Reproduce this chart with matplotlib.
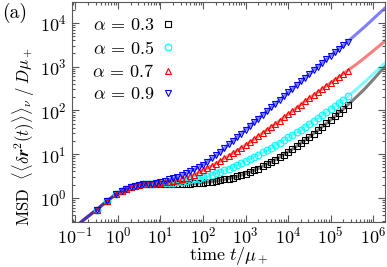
import numpy as np
import matplotlib
matplotlib.use("Agg")
import matplotlib.pyplot as plt
from matplotlib.ticker import LogLocator, NullFormatter

plt.rcParams["font.family"] = "serif"
plt.rcParams["font.serif"] = ["cmr10", "DejaVu Serif"]
plt.rcParams["mathtext.fontset"] = "cm"
plt.rcParams["axes.formatter.use_mathtext"] = True
plt.rcParams["font.size"] = 13


# log10(time) at which the simulation points are shown
log_t = [-0.5, -0.25, -0.05, 0.1, 0.2, 0.3, 0.4, 0.5, 0.6, 0.7, 0.8,
         0.9, 1.0, 1.1, 1.2, 1.3, 1.4, 1.5, 1.6, 1.7, 1.8, 1.9,
         2.0, 2.1, 2.2, 2.3, 2.4, 2.5, 2.6, 2.7, 2.8, 2.9,
         3.0, 3.1, 3.2, 3.3, 3.4, 3.5, 3.6, 3.7, 3.8, 3.9,
         4.0, 4.1, 4.2, 4.3, 4.4, 4.5, 4.6, 4.7, 4.8, 4.9,
         5.0, 5.1, 5.2, 5.3, 5.4]

# common short-time part (same for every alpha), log10 MSD
early = [-0.27, -0.07, 0.08, 0.16, 0.21, 0.25, 0.28, 0.30, 0.31, 0.32, 0.32]

# log10 MSD from log t = 0.9 onwards
msd_03 = [0.31, 0.31, 0.31, 0.31, 0.31, 0.31, 0.31, 0.32, 0.32, 0.33, 0.34,
          0.35, 0.36, 0.37, 0.38, 0.40, 0.42, 0.44, 0.46, 0.49, 0.52,
          0.55, 0.59, 0.63, 0.67, 0.72, 0.77, 0.82, 0.87, 0.93, 0.99,
          1.05, 1.11, 1.18, 1.25, 1.32, 1.39, 1.47, 1.54, 1.62, 1.70,
          1.78, 1.86, 1.95, 2.03, 2.12]
msd_05 = [0.33, 0.33, 0.34, 0.34, 0.35, 0.36, 0.37, 0.38, 0.40, 0.42, 0.44,
          0.47, 0.50, 0.53, 0.56, 0.60, 0.63, 0.67, 0.71, 0.75, 0.79,
          0.84, 0.89, 0.94, 0.99, 1.04, 1.09, 1.15, 1.20, 1.26, 1.32,
          1.38, 1.44, 1.50, 1.56, 1.63, 1.69, 1.76, 1.82, 1.89, 1.96,
          2.03, 2.10, 2.17, 2.24, 2.32]
msd_07 = [0.34, 0.35, 0.36, 0.37, 0.39, 0.41, 0.43, 0.46, 0.49, 0.53, 0.58,
          0.63, 0.68, 0.73, 0.78, 0.84, 0.90, 0.96, 1.02, 1.08, 1.14,
          1.21, 1.27, 1.34, 1.41, 1.48, 1.55, 1.62, 1.69, 1.76, 1.84,
          1.91, 1.98, 2.06, 2.13, 2.21, 2.28, 2.35, 2.42, 2.49, 2.56,
          2.63, 2.70, 2.77, 2.84, 2.91]
msd_09 = [0.35, 0.37, 0.39, 0.42, 0.45, 0.48, 0.52, 0.56, 0.61, 0.65, 0.70,
          0.76, 0.83, 0.90, 0.97, 1.05, 1.13, 1.22, 1.30, 1.39, 1.47,
          1.56, 1.64, 1.73, 1.81, 1.90, 1.98, 2.07, 2.15, 2.24, 2.32,
          2.41, 2.49, 2.58, 2.66, 2.75, 2.83, 2.92, 3.00, 3.09, 3.17,
          3.25, 3.33, 3.41, 3.49, 3.57]

# theory curves: extra points before and after the simulated range
head_t = [-1.1, -0.8]
head_msd = [-0.75, -0.50]
tail_t = [5.6, 5.8, 6.0, 6.2, 6.35]
tail_03 = [2.30, 2.49, 2.70, 2.92, 3.07]
tail_05 = [2.48, 2.65, 2.83, 3.01, 3.15]
tail_07 = [3.05, 3.20, 3.36, 3.52, 3.64]
tail_09 = [3.74, 3.91, 4.09, 4.27, 4.40]

alphas = ["0.3", "0.5", "0.7", "0.9"]
series = [msd_03, msd_05, msd_07, msd_09]
tails = [tail_03, tail_05, tail_07, tail_09]
colors = ["black", "cyan", "red", "blue"]
markers = ["s", "o", "^", "v"]


fig = plt.figure(figsize=(3.87, 2.67), dpi=100)
ax = fig.add_axes([0.186, 0.169, 0.809, 0.824])

t = 10.0**np.array(log_t)
for a, vals, tail, c, m in zip(alphas, series, tails, colors, markers):
    y = 10.0**np.array(early + vals)
    tl = 10.0**np.array(head_t + log_t + tail_t)
    yl = 10.0**np.array(head_msd + early + vals + tail)
    ax.plot(tl, yl, "-", color=c, lw=2.2, alpha=0.5, zorder=1)
    ax.plot(t, y, ls="none", marker=m, ms=4.8, mfc="none", mec=c, mew=0.8,
            label=r"$\alpha \,=\, %s$" % a, zorder=2)

ax.set_xscale("log")
ax.set_yscale("log")
ax.set_xlim(10**-1.08, 10**6.28)
ax.set_ylim(10**-0.55, 10**4.48)
ax.xaxis.set_major_locator(LogLocator(base=10, numticks=20))
ax.yaxis.set_major_locator(LogLocator(base=10, numticks=20))
ax.xaxis.set_minor_locator(LogLocator(base=10, subs=np.arange(2, 10), numticks=20))
ax.yaxis.set_minor_locator(LogLocator(base=10, subs=np.arange(2, 10), numticks=20))
ax.xaxis.set_minor_formatter(NullFormatter())
ax.yaxis.set_minor_formatter(NullFormatter())
ax.tick_params(which="both", direction="in", top=True, right=True, colors="0.35",
               labelcolor="black", width=0.8)
ax.tick_params(which="major", length=5, pad=4)
ax.tick_params(axis="x", which="major", pad=3)
ax.tick_params(which="minor", length=2.5)
for s in ax.spines.values():
    s.set_color("0.35")
    s.set_linewidth(0.8)

ax.set_xlabel(r"$\mathrm{time}\ t/\mu_+$", labelpad=-1.5)
ax.set_ylabel(r"$\mathrm{MSD}\ \ \langle\langle\delta \mathbfit{r}^2(t)\rangle\rangle_\nu\;/\;D\mu_+$",
              fontsize=12)
ax.yaxis.set_label_coords(-0.113, 0.39)

ax.legend(loc="upper left", bbox_to_anchor=(0.015, 1.0), frameon=False, markerfirst=False,
          handlelength=1.0, handletextpad=0.3, labelspacing=0.35, borderaxespad=0.45)

fig.text(0.005, 0.99, "(a)", ha="left", va="top", fontsize=14)

fig.savefig("out.png", dpi=100)
